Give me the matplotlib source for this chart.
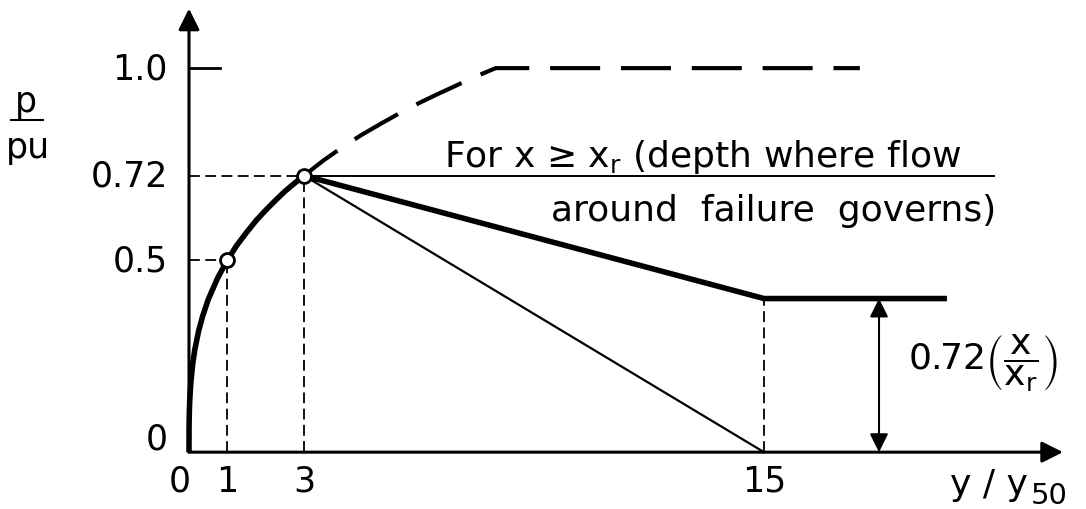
import matplotlib.pyplot as plt
import numpy as np

plt.rcParams['font.family'] = ['DejaVu Sans']
plt.rcParams['mathtext.default'] = 'regular'

# p/pu versus y/y50
curve_y = [0.0, 0.002, 0.005, 0.01, 0.02, 0.05, 0.1, 0.15, 0.25, 0.35, 0.5,
           0.75, 1.0, 1.25, 1.5, 1.75, 2.0, 2.25, 2.5, 2.75, 3.0]
curve_p = [0.0, 0.063, 0.085, 0.108, 0.136, 0.184, 0.232, 0.266, 0.315,
           0.352, 0.397, 0.454, 0.50, 0.539, 0.572, 0.603, 0.63, 0.655,
           0.679, 0.70, 0.72]

# continuation up to the ultimate resistance
ult_y = [3.0, 3.5, 4.0, 4.5, 5.0, 5.5, 6.0, 6.5, 7.0, 7.5, 8.0, 17.5]
ult_p = [0.72, 0.759, 0.794, 0.826, 0.855, 0.883, 0.909, 0.933, 0.956,
         0.979, 1.0, 1.0]

# degraded branch for x < xr and the x >= xr branch
deep_y = [3.0, 15.0, 19.7]
deep_p = [0.72, 0.40, 0.40]
zero_y = [3.0, 15.0]
zero_p = [0.72, 0.0]
flow_y = [3.0, 21.0]
flow_p = [0.72, 0.72]

# marked points and axis labels
pts_y = [1.0, 3.0]
pts_p = [0.5, 0.72]
xticks = [0, 1, 3, 15]
xtick_labels = ['0', '1', '3', '15']
yticks = [0, 0.5, 0.72, 1.0]
ytick_labels = ['0', '0.5', '0.72', '1.0']

fig = plt.figure(figsize=(10.86, 5.10), dpi=100)
ax = fig.add_axes([0, 0, 1, 1])
ax.set_xlim(-4.93, 23.40)
ax.set_ylim(-0.148, 1.180)
ax.axis('off')

# axes with arrow heads
ax.annotate('', xy=(22.8, 0), xytext=(0, 0),
            arrowprops=dict(arrowstyle='-|>', lw=2.2, color='black',
                            mutation_scale=32, shrinkA=0, shrinkB=0))
ax.annotate('', xy=(0, 1.155), xytext=(0, 0),
            arrowprops=dict(arrowstyle='-|>', lw=2.2, color='black',
                            mutation_scale=32, shrinkA=0, shrinkB=0))

# guide lines
dash = (0, (6, 3))
ax.plot([0, 0.8], [1.0, 1.0], color='black', lw=2)
ax.plot([0, pts_y[0]], [pts_p[0]] * 2, color='black', lw=1.3, ls=dash)
ax.plot([0, pts_y[1]], [pts_p[1]] * 2, color='black', lw=1.3, ls=dash)
ax.plot([pts_y[0]] * 2, [0, pts_p[0]], color='black', lw=1.3, ls=dash)
ax.plot([pts_y[1]] * 2, [0, pts_p[1]], color='black', lw=1.3, ls=dash)
ax.plot([deep_y[1]] * 2, [0, deep_p[1]], color='black', lw=1.3, ls=dash)

# curves
ax.plot(curve_y, curve_p, color='black', lw=4, solid_capstyle='butt')
ax.plot(ult_y, ult_p, color='black', lw=3, ls=(2, (12, 5)))
ax.plot(deep_y, deep_p, color='black', lw=4, solid_joinstyle='miter')
ax.plot(zero_y, zero_p, color='black', lw=1.6)
ax.plot(flow_y, flow_p, color='black', lw=1.4)
ax.plot(pts_y, pts_p, 'o', ms=10, mfc='white', mec='black', mew=2, zorder=5)

# double arrow for the residual value
ax.annotate('', xy=(18.0, deep_p[1]), xytext=(18.0, 0),
            arrowprops=dict(arrowstyle='<|-|>', lw=1.5, color='black',
                            mutation_scale=28, shrinkA=0, shrinkB=0))

# tick labels
fs = 25
for v, s in zip(xticks, xtick_labels):
    off = -0.25 if v == 0 else 0
    ax.text(v + off, -0.075, s, fontsize=fs, ha='center', va='center')
for v, s in zip(yticks, ytick_labels):
    yy = v + 0.035 if v == 0 else v
    ax.text(-0.55, yy, s, fontsize=fs, ha='right', va='center')

# axis titles
ax.text(-4.25, 0.915, 'p', fontsize=fs, ha='center', va='center')
ax.plot([-4.65, -3.80], [0.864, 0.864], color='black', lw=1.5)
ax.text(-4.20, 0.795, 'pu', fontsize=fs, ha='center', va='center')
ax.text(19.85, -0.109, 'y / y', fontsize=26, ha='left', va='baseline')
ax.text(21.95, -0.133, '50', fontsize=21, ha='left', va='baseline')

ax.text(6.65, 0.77, 'For x ≥ x$_r$ (depth where flow', fontsize=26,
        ha='left', va='center')
ax.text(9.45, 0.63, 'around  failure  governs)', fontsize=26,
        ha='left', va='center')
ax.text(18.75, 0.235, r'0.72$\left(\dfrac{x}{x_r}\right)$', fontsize=26,
        ha='left', va='center')

fig.savefig('out.png', dpi=100)
